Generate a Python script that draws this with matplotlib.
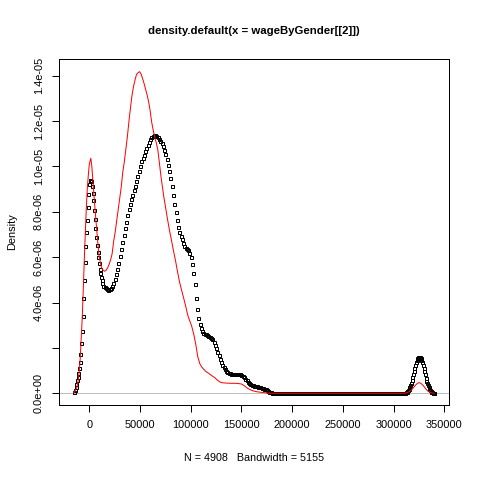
import matplotlib
matplotlib.use("Agg")
import matplotlib.pyplot as plt

plt.rcParams['font.family'] = ['Liberation Sans', 'DejaVu Sans']

title = "density.default(x = wageByGender[[2]])"
x_label = "N = 4908   Bandwidth = 5155"
y_label = "Density"
x_ticks = [0, 50000, 100000, 150000, 200000, 250000, 300000, 350000]
x_tick_labels = ["0", "50000", "100000", "150000", "200000", "250000", "300000", "350000"]
y_ticks = [0.0, 2e-6, 4e-6, 6e-6, 8e-6, 1.0e-5, 1.2e-5, 1.4e-5]
y_tick_labels = ["0.0e+00", "", "4.0e-06", "6.0e-06", "8.0e-06", "1.0e-05", "1.2e-05", "1.4e-05"]

# black density (points), y in units of 1e-6
black_x = [
    -15000, -14300, -13600, -12900, -12200, -11500, -10800, -10100, -9400, -8700,
    -8000, -7300, -6600, -5900, -5200, -4500, -3800, -3100, -2400, -1700,
    -1000, -300, 400, 1100, 1800, 2500, 3200, 3900, 4600, 5300,
    6000, 6700, 7400, 8100, 8800, 9500, 10200, 10900, 11600, 12300,
    13000, 13750, 15000, 16250, 17500, 18750, 20000, 21250, 22500, 23750,
    25000, 26250, 27500, 28750, 30000, 31250, 32500, 33750, 35000, 36250,
    37500, 38750, 40000, 41250, 42500, 43750, 45000, 46250, 47500, 48750,
    50000, 51250, 52500, 53750, 55000, 56250, 57500, 58750, 60000, 61250,
    62500, 63750, 65000, 66250, 67500, 68750, 70000, 71250, 72500, 73750,
    75000, 76250, 77500, 78750, 80000, 81250, 82500, 83750, 85000, 86250,
    87500, 88750, 90000, 91250, 92500, 93750, 95000, 96250, 97500, 98750,
    100000, 101250, 102500, 103750, 105000, 106250, 107500, 108750, 110000, 111250,
    112500, 113750, 115000, 116250, 117500, 118750, 120000, 121250, 122500, 123750,
    125000, 126250, 127500, 128750, 130000, 131250, 132500, 133750, 135000, 136250,
    137500, 138750, 140000, 141250, 142500, 143750, 145000, 146250, 147500, 148750,
    150000, 151250, 152500, 153750, 155000, 156250, 157500, 158750, 160000, 161250,
    162500, 163750, 165000, 166250, 167500, 168750, 170000, 171250, 172500, 173750,
    175000, 176250, 177500, 178750, 180000, 181250, 182500, 183750, 185000, 186250,
    187500, 188750, 190000, 191250, 192500, 193750, 195000, 196250, 197500, 198750,
    200000, 201250, 202500, 203750, 205000, 206250, 207500, 208750, 210000, 211250,
    212500, 213750, 215000, 216250, 217500, 218750, 220000, 221250, 222500, 223750,
    225000, 226250, 227500, 228750, 230000, 231250, 232500, 233750, 235000, 236250,
    237500, 238750, 240000, 241250, 242500, 243750, 245000, 246250, 247500, 248750,
    250000, 251250, 252500, 253750, 255000, 256250, 257500, 258750, 260000, 261250,
    262500, 263750, 265000, 266250, 267500, 268750, 270000, 271250, 272500, 273750,
    275000, 276250, 277500, 278750, 280000, 281250, 282500, 283750, 285000, 286250,
    287500, 288750, 290000, 291250, 292500, 293750, 295000, 296250, 297500, 298750,
    300000, 301250, 302500, 303750, 305000, 306250, 307500, 308750, 310000, 310700,
    311400, 312100, 312800, 313500, 314200, 314900, 315600, 316300, 317000, 317700,
    318400, 319100, 319800, 320500, 321200, 321900, 322600, 323300, 324000, 324700,
    325400, 326100, 326800, 327500, 328200, 328900, 329600, 330300, 331000, 331700,
    332400, 333100, 333800, 334500, 335200, 335900, 336600, 337300, 338000, 338700,
    339400, 340100,
]
black_y = [
    0.07, 0.16, 0.29, 0.43, 0.57, 0.7, 0.88, 1.1, 1.4, 1.75,
    2.2, 2.75, 3.4, 4.2, 5.0, 5.8, 6.5, 7.1, 7.65, 8.2,
    8.8, 9.22, 9.4, 9.42, 9.35, 9.15, 8.85, 8.5, 8.1, 7.7,
    7.3, 6.9, 6.55, 6.25, 6.0, 5.75, 5.5, 5.3, 5.12, 4.98,
    4.85, 4.75, 4.68, 4.62, 4.58, 4.57, 4.58, 4.63, 4.72, 4.87,
    5.05, 5.26, 5.5, 5.76, 6.05, 6.35, 6.65, 6.96, 7.28, 7.57,
    7.85, 8.11, 8.35, 8.56, 8.75, 8.95, 9.15, 9.35, 9.57, 9.8,
    10.03, 10.22, 10.38, 10.52, 10.66, 10.81, 10.96, 11.08, 11.19, 11.28,
    11.34, 11.38, 11.38, 11.34, 11.28, 11.21, 11.13, 11.03, 10.9, 10.74,
    10.55, 10.32, 10.05, 9.78, 9.48, 9.13, 8.75, 8.36, 7.98, 7.63,
    7.35, 7.13, 6.95, 6.78, 6.62, 6.51, 6.42, 6.36, 6.3, 6.2,
    6.0, 5.68, 5.3, 4.82, 4.22, 3.7, 3.3, 3.05, 2.87, 2.75,
    2.67, 2.63, 2.6, 2.57, 2.53, 2.5, 2.45, 2.38, 2.28, 2.15,
    2.0, 1.84, 1.68, 1.52, 1.38, 1.26, 1.15, 1.06, 0.98, 0.93,
    0.9, 0.88, 0.86, 0.85, 0.85, 0.85, 0.85, 0.85, 0.85, 0.84,
    0.82, 0.78, 0.72, 0.65, 0.58, 0.51, 0.45, 0.41, 0.38, 0.35,
    0.33, 0.31, 0.3, 0.28, 0.27, 0.26, 0.25, 0.23, 0.2, 0.17,
    0.14, 0.1, 0.07, 0.05, 0.03, 0.02, 0.01, 0.0, 0.0, 0.0,
    0.0, 0.0, 0.0, 0.0, 0.0, 0.0, 0.0, 0.0, 0.0, 0.0,
    0.0, 0.0, 0.0, 0.0, 0.0, 0.0, 0.0, 0.0, 0.0, 0.0,
    0.0, 0.0, 0.0, 0.0, 0.0, 0.0, 0.0, 0.0, 0.0, 0.0,
    0.0, 0.0, 0.0, 0.0, 0.0, 0.0, 0.0, 0.0, 0.0, 0.0,
    0.0, 0.0, 0.0, 0.0, 0.0, 0.0, 0.0, 0.0, 0.0, 0.0,
    0.0, 0.0, 0.0, 0.0, 0.0, 0.0, 0.0, 0.0, 0.0, 0.0,
    0.0, 0.0, 0.0, 0.0, 0.0, 0.0, 0.0, 0.0, 0.0, 0.0,
    0.0, 0.0, 0.0, 0.0, 0.0, 0.0, 0.0, 0.0, 0.0, 0.0,
    0.0, 0.0, 0.0, 0.0, 0.0, 0.0, 0.0, 0.0, 0.0, 0.0,
    0.0, 0.0, 0.0, 0.0, 0.0, 0.0, 0.0, 0.005, 0.015, 0.022,
    0.033, 0.05, 0.07, 0.1, 0.14, 0.19, 0.26, 0.35, 0.45, 0.57,
    0.7, 0.84, 0.98, 1.12, 1.25, 1.37, 1.47, 1.54, 1.59, 1.61,
    1.61, 1.59, 1.54, 1.47, 1.37, 1.25, 1.11, 0.97, 0.83, 0.69,
    0.56, 0.45, 0.35, 0.27, 0.2, 0.15, 0.1, 0.07, 0.05, 0.03,
    0.02, 0.01,
]

# red density (line), y in units of 1e-6
red_x = [
    -15500, -14000, -12500, -11000, -10000, -9000, -8000, -7000, -6000, -5000,
    -4000, -3000, -2000, -1000, 0, 1500, 2500, 3500, 4500, 5500,
    6500, 7500, 8500, 9500, 10500, 12000, 13500, 15000, 16500, 18000,
    19500, 21000, 22500, 24000, 25500, 27000, 28500, 30000, 31500, 33000,
    34500, 36000, 37500, 39000, 40500, 42000, 43500, 45000, 46500, 48000,
    49500, 51000, 52500, 54000, 55500, 57000, 58500, 60000, 61500, 63000,
    64500, 66000, 67500, 69000, 70500, 72000, 73500, 75000, 77000, 79000,
    81000, 83000, 85000, 87000, 89000, 91000, 93000, 95000, 97000, 99000,
    101000, 103000, 105000, 107000, 109000, 111000, 113000, 115000, 118000, 121000,
    124000, 127000, 130000, 135000, 140000, 145000, 150000, 153000, 156000, 159000,
    162000, 165000, 168000, 172000, 176000, 180000, 310000, 312000, 314000, 316000,
    318000, 320000, 322000, 324000, 325000, 326000, 328000, 330000, 332000, 334000,
    336000, 338000, 340000,
]
red_y = [
    0.03, 0.12, 0.22, 0.55, 0.95, 1.5, 2.4, 3.3, 4.5, 5.8,
    7.0, 8.1, 9.0, 9.6, 10.1, 10.36, 10.0, 9.4, 8.8, 8.2,
    7.65, 7.1, 6.6, 6.1, 5.85, 5.55, 5.43, 5.38, 5.42, 5.52,
    5.68, 5.88, 6.15, 6.7, 7.1, 7.6, 8.1, 8.6, 9.1, 9.75,
    10.2, 10.75, 11.3, 11.95, 12.55, 13.1, 13.5, 13.8, 14.05, 14.13,
    14.18, 14.08, 13.88, 13.66, 13.4, 13.15, 12.85, 12.45, 11.95, 11.6,
    11.28, 11.05, 10.75, 10.2, 9.62, 9.12, 8.65, 8.25, 7.7, 7.2,
    6.75, 6.28, 5.85, 5.35, 4.9, 4.55, 4.2, 3.85, 3.45, 3.2,
    2.95, 2.6, 2.15, 1.6, 1.3, 1.15, 1.05, 0.96, 0.87, 0.77,
    0.68, 0.55, 0.47, 0.45, 0.44, 0.44, 0.41, 0.33, 0.22, 0.15,
    0.1, 0.07, 0.05, 0.03, 0.01, 0.0, 0.0, 0.01, 0.04, 0.09,
    0.16, 0.27, 0.38, 0.45, 0.47, 0.46, 0.40, 0.30, 0.18, 0.09,
    0.04, 0.015, 0.005,
]

scale = 1e-6
W, H = 480, 480
dpi = 72
fig = plt.figure(figsize=(W / dpi, H / dpi), dpi=dpi)
fig.patch.set_facecolor("white")
ax = fig.add_axes([59 / W, (H - 405) / H, 390 / W, 346 / H])

ax.axhline(0, color="#BEBEBE", lw=1, zorder=1)
ax.plot(black_x, [v * scale for v in black_y], linestyle="none", marker="s",
        markersize=3.0, markerfacecolor="none", markeredgecolor="black",
        markeredgewidth=1.0, zorder=2)
ax.plot(red_x, [v * scale for v in red_y], color="red", lw=1, zorder=3)

ax.set_xlim(-29873, 354640)
ax.set_ylim(-5.16e-7, 1.4737e-5)

ax.set_xticks(x_ticks)
ax.set_xticklabels(x_tick_labels)
ax.set_yticks(y_ticks)
ax.set_yticklabels(y_tick_labels, rotation=90, va="center")

for s in ax.spines.values():
    s.set_linewidth(1)
    s.set_color("black")
ax.tick_params(axis="both", direction="out", length=7, width=1, labelsize=11, colors="black")
ax.tick_params(axis="x", pad=8)
ax.tick_params(axis="y", pad=8)

cx = (59 + 449) / 2 / W
fig.text(cx, 1 - 31 / H, title, ha="center", va="center",
         fontsize=11.4, fontweight="bold")
fig.text(cx, 1 - 458 / H, x_label, ha="center", va="center", fontsize=10.8)
fig.text(12 / W, 1 - 232 / H, y_label, ha="center", va="center", rotation=90, fontsize=11)

fig.savefig("out.png", dpi=dpi)
